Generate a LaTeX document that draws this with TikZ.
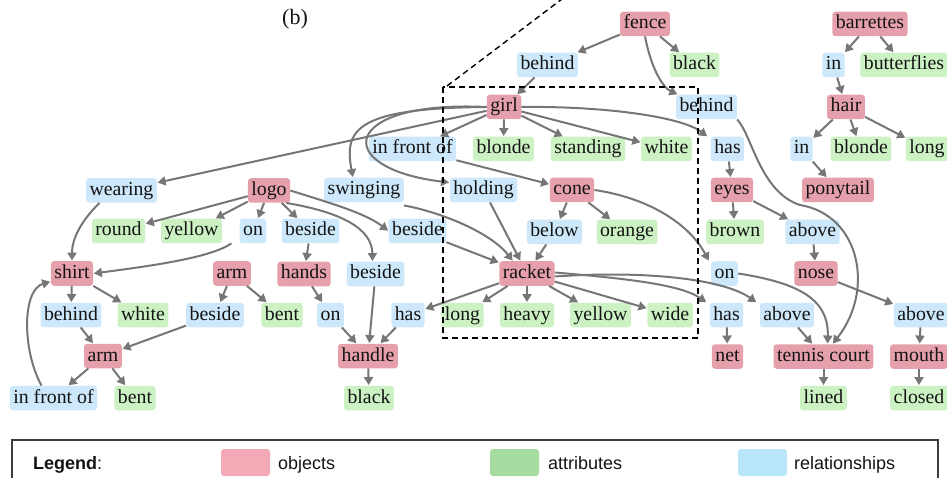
\documentclass[tikz,border=0pt]{standalone}
\usepackage{fontspec}
\setmainfont{Liberation Serif}
\newfontfamily\legfont{Liberation Sans}
\usetikzlibrary{arrows.meta}
\definecolor{objc}{RGB}{230,160,172}
\definecolor{attc}{RGB}{204,242,196}
\definecolor{relc}{RGB}{204,232,250}
\definecolor{objl}{RGB}{244,170,182}
\definecolor{attl}{RGB}{166,220,160}
\definecolor{rell}{RGB}{186,230,250}
\definecolor{arrc}{RGB}{118,118,118}
\definecolor{txtc}{RGB}{20,20,20}
\definecolor{legc}{RGB}{60,60,60}
\begin{document}
\begin{tikzpicture}[x=1pt,y=-1pt,
  nd/.style={rounded corners=3pt, inner xsep=3.5pt, inner ysep=0pt, text height=14.5pt, text depth=4.5pt, minimum height=24.5pt, font=\fontsize{19.8}{22}\selectfont, text=txtc},
  obj/.style={nd, fill=objc},
  att/.style={nd, fill=attc},
  rel/.style={nd, fill=relc},
  arr/.style={draw=arrc, line width=2pt, -{Triangle[length=8pt,width=9pt]}, shorten >=0.5pt},
  dbox/.style={draw=black, line width=1.4pt, dash pattern=on 6pt off 4pt},
  swatch/.style={rounded corners=3pt, minimum width=49pt, minimum height=27pt, inner sep=0pt},
  legtxt/.style={anchor=base west, inner sep=0pt, text=txtc, font=\legfont\fontsize{18}{20}\selectfont},
]
\useasboundingbox (0,0) rectangle (947,478);

% label
\node[font=\fontsize{22}{24}\selectfont, text=txtc] (blabel) at (295,19) {(b)};

% nodes
\node[obj] (fence) at (645,24) {fence};
\node[obj] (barrettes) at (870,24) {barrettes};
\node[rel] (behindA) at (547.5,65) {behind};
\node[att] (blackA) at (694.5,65) {black};
\node[rel] (inA) at (833.5,65) {in};
\node[att] (butterflies) at (904,65) {butterflies};
\node[obj] (girl) at (504,107) {girl};
\node[rel] (behindB) at (706.5,107) {behind};
\node[obj] (hair) at (846,107) {hair};
\node[rel] (infrontA) at (412.5,149) {in front of};
\node[att] (blondeA) at (503.5,149) {blonde};
\node[att] (standing) at (588,149) {standing};
\node[att] (whiteA) at (666.5,149) {white};
\node[rel] (hasA) at (727.5,149) {has};
\node[rel] (inB) at (801.5,149) {in};
\node[att] (blondeB) at (861,149) {blonde};
\node[att] (longB) at (927,149) {long};
\node[rel] (wearing) at (121.5,190.5) {wearing};
\node[obj] (logo) at (269,190.5) {logo};
\node[rel] (swinging) at (364,190) {swinging};
\node[rel] (holding) at (483.5,190) {holding};
\node[obj] (cone) at (572,190) {cone};
\node[obj] (eyes) at (732,190) {eyes};
\node[obj] (ponytail) at (838,190) {ponytail};
\node[att] (round) at (118.5,231) {round};
\node[att] (yellowA) at (191.5,231) {yellow};
\node[rel] (onA) at (253,231) {on};
\node[rel] (besideA) at (310.5,231) {beside};
\node[rel] (besideB) at (417.5,231) {beside};
\node[rel] (below) at (554.5,232) {below};
\node[att] (orange) at (627,232) {orange};
\node[att] (brown) at (735,232) {brown};
\node[rel] (aboveA) at (812.5,232) {above};
\node[obj] (shirt) at (72,273.5) {shirt};
\node[obj] (armA) at (232,273.5) {arm};
\node[obj] (hands) at (304,274) {hands};
\node[rel] (besideC) at (375.5,274) {beside};
\node[obj] (racket) at (527,273.5) {racket};
\node[rel] (onB) at (724.5,273.5) {on};
\node[obj] (nose) at (816,273.5) {nose};
\node[rel] (behindC) at (71,315) {behind};
\node[att] (whiteB) at (143,315) {white};
\node[rel] (besideD) at (215,315) {beside};
\node[att] (bentA) at (282,315) {bent};
\node[rel] (onC) at (330.5,315) {on};
\node[rel] (hasB) at (408,315) {has};
\node[att] (longA) at (462.5,315) {long};
\node[att] (heavy) at (527,315) {heavy};
\node[att] (yellowB) at (600.5,315) {yellow};
\node[att] (wide) at (670,315) {wide};
\node[rel] (hasC) at (726.5,315) {has};
\node[rel] (aboveB) at (787,315) {above};
\node[rel] (aboveC) at (921,315) {above};
\node[obj] (armB) at (103,356) {arm};
\node[obj] (handle) at (368,356) {handle};
\node[obj] (net) at (727.5,356.5) {net};
\node[obj] (tennis) at (823.5,356.5) {tennis court};
\node[obj] (mouth) at (919,356.5) {mouth};
\node[rel] (infrontB) at (53.5,398) {in front of};
\node[att] (bentB) at (135,398) {bent};
\node[att] (blackB) at (369,398) {black};
\node[att] (lined) at (823.5,398) {lined};
\node[att] (closed) at (919,398) {closed};

% straight edges
\foreach \a/\b in {fence/behindA, fence/blackA, behindA/girl, barrettes/inA, barrettes/butterflies, inA/hair,
  hair/inB, hair/blondeB, hair/longB, inB/ponytail, girl/infrontA, girl/blondeA, girl/standing, girl/whiteA,
  girl/wearing, infrontA/cone, holding/racket, below/racket, cone/below, cone/orange, besideB/racket,
  hasA/eyes, eyes/brown, eyes/aboveA, aboveA/nose, nose/aboveC, aboveC/mouth, mouth/closed,
  racket/hasB, racket/longA, racket/heavy, racket/yellowB, racket/wide, hasC/net, aboveB/tennis, tennis/lined,
  logo/round, logo/yellowA, logo/onA, logo/besideA, besideA/hands, hands/onC, onC/handle, besideC/handle,
  hasB/handle, handle/blackB, shirt/behindC, shirt/whiteB, behindC/armB, armA/besideD, armA/bentA,
  besideD/armB, armB/infrontB, armB/bentB}
  \draw[arr] (\a) -- (\b);

% curved edges
\draw[arr] (fence.south) .. controls (652,72) and (664,88) .. ([xshift=2pt]behindB.north west);
\draw[arr] (behindB.south east) .. controls (752,135) and (760,192) .. (800,205)
  .. controls (860,215) and (875,290) .. ([xshift=9pt]tennis.north);
\draw[arr] (girl.east) .. controls (600,106) and (680,116) .. ([xshift=-3pt]hasA.north west);
\draw[arr] (girl.west) .. controls (355,108) and (344,130) .. ([xshift=-11pt]swinging.north);
\draw[arr] (girl.west) .. controls (340,100) and (330,168) .. ([yshift=-5pt]holding.north west);
\draw[arr] ([yshift=-3pt]swinging.south east) .. controls (440,212) and (490,232) .. ([xshift=-14pt]racket.north);
\draw[arr] (cone.east) .. controls (650,198) and (690,225) .. ([xshift=-2pt]onB.north west);
\draw[arr] ([yshift=1pt]racket.east) .. controls (620,278) and (680,284) .. ([xshift=-3pt]hasC.north west);
\draw[arr] ([yshift=-3pt]racket.east) .. controls (650,270) and (725,280) .. ([xshift=-3pt]aboveB.north west);
\draw[arr] (onB.east) .. controls (800,283) and (829,300) .. ([xshift=4pt]tennis.north);
\draw[arr] (logo.east) .. controls (330,203) and (365,213) .. (besideB.west);
\draw[arr] ([xshift=-4pt]logo.south east) .. controls (340,212) and (372,228) .. ([xshift=-3pt]besideC.north);
\draw[arr] ([xshift=-8pt]onA.south west) .. controls (210,258) and (150,266) .. (shirt.east);
\draw[arr] ([xshift=-22pt]wearing.south) .. controls (82,220) and (72,238) .. (shirt.north);
\draw[arr] ([xshift=-12pt]infrontB.north) .. controls (22,350) and (22,290) .. ([yshift=-8pt]shirt.west);

% dashed zoom box
\draw[dbox] (443,87) rectangle (698,338);
\draw[dbox] (447,86) -- (562,-1);

% legend
\draw[draw=legc, line width=1.2pt] (12,440) rectangle (938,495);
\node[legtxt] (legtitle) at (33,469) {\textbf{Legend}:};
\node[swatch, fill=objl] (swobj) at (245.5,462.5) {};
\node[legtxt] (legobj) at (278,469) {objects};
\node[swatch, fill=attl] (swatt) at (514.5,462.5) {};
\node[legtxt] (legatt) at (548,469) {attributes};
\node[swatch, fill=rell] (swrel) at (762.5,462.5) {};
\node[legtxt] (legrel) at (794,469) {relationships};
\end{tikzpicture}
\end{document}
